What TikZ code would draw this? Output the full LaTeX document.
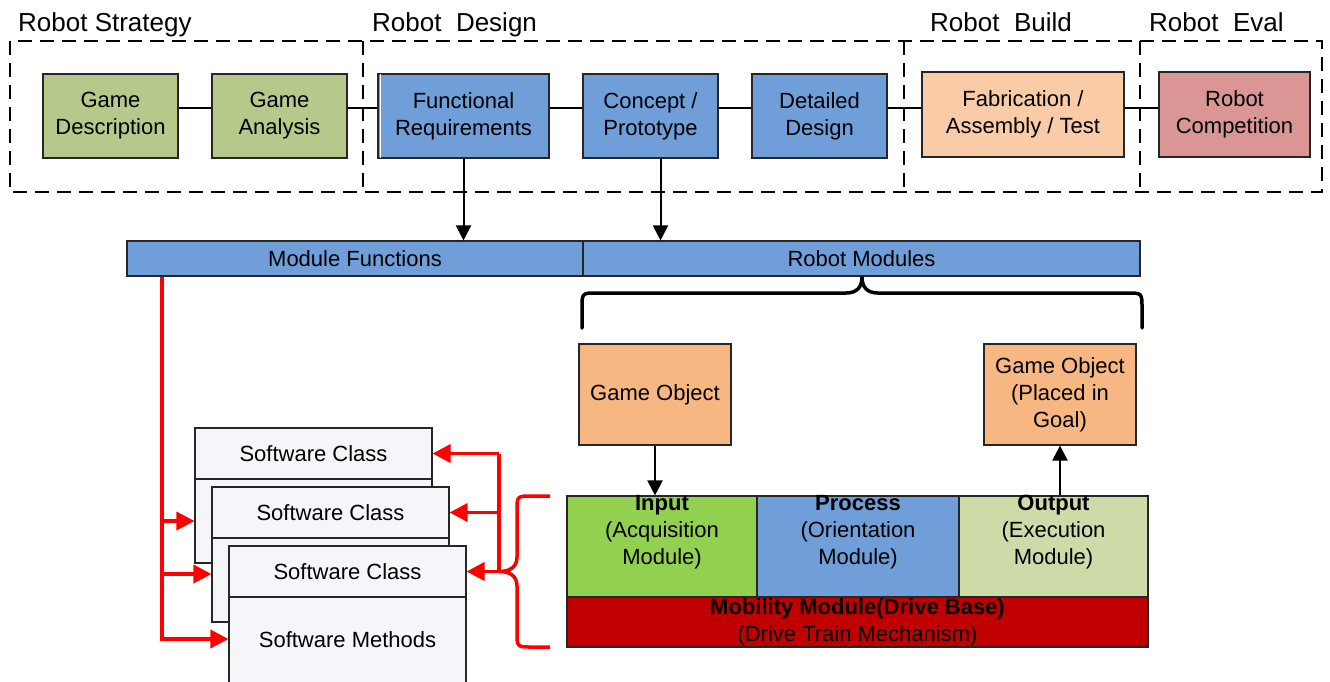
\documentclass[tikz,border=0pt]{standalone}
\usepackage{fontspec}
\setmainfont{Liberation Sans}
\usetikzlibrary{arrows.meta,calc}

\definecolor{stratgreen}{RGB}{181,201,139}
\definecolor{designblue}{RGB}{112,158,217}
\definecolor{fabpeach}{RGB}{250,203,167}
\definecolor{comprose}{RGB}{217,150,148}
\definecolor{objorange}{RGB}{247,183,130}
\definecolor{inputgreen}{RGB}{146,208,80}
\definecolor{outputgreen}{RGB}{205,219,168}
\definecolor{mobred}{RGB}{192,0,0}
\definecolor{cardfill}{RGB}{244,246,250}
\definecolor{flowred}{RGB}{255,0,0}

\newcommand\diagbody{\fontsize{22}{27}\selectfont}
\newcommand\diagtitle{\fontsize{26}{30}\selectfont}

\begin{document}
\begin{tikzpicture}[x=1pt,y=-1pt,
  box/.style={draw=black!85, line width=1.1pt, inner sep=0pt, align=center, font=\diagbody},
  txt/.style={inner sep=0pt, align=center, font=\diagbody},
  title/.style={inner sep=0pt, anchor=base west, font=\diagtitle},
  grp/.style={draw=black, line width=2pt, dash pattern=on 14pt off 8pt},
  link/.style={draw=black, line width=1.1pt},
  arr/.style={draw=black, line width=2pt, -{Triangle[length=15pt,width=15pt]}},
  redln/.style={draw=flowred, line width=3.5pt},
  redarr/.style={redln, -{Triangle[length=18pt,width=18pt]}},
  brace/.style={draw=black, line width=3.5pt, line cap=round},
  card/.style={box, fill=cardfill, minimum width=237}]

\useasboundingbox (0,0) rectangle (1330,681);
\clip (0,0) rectangle (1330,681);

% ---- phase groups ----
\draw[grp] (10,41) rectangle (1322,192);
\draw[grp] (363,41) -- (363,192);
\draw[grp] (904,41) -- (904,192);
\draw[grp] (1140,41) -- (1140,192);

\node[title] (tStrat) at (18,31) {Robot Strategy};
\node[title] (tDesign) at (372,31) {Robot~~Design};
\node[title] (tBuild) at (930,31) {Robot~~Build};
\node[title] (tEval) at (1149,31) {Robot~~Eval};

% ---- process chain ----
\node[box, fill=stratgreen, minimum width=135, minimum height=84] (gd) at (110.5,116) {Game\\Description};
\node[box, fill=stratgreen, minimum width=135, minimum height=84] (ga) at (279.5,116) {Game\\Analysis};
\node[box, fill=designblue, minimum width=171, minimum height=84] (fr) at (463.5,116) {Functional\\Requirements};
\node[box, fill=designblue, minimum width=135, minimum height=84] (cp) at (650.5,116) {Concept /\\Prototype};
\node[box, fill=designblue, minimum width=135, minimum height=84] (dd) at (819.5,116) {Detailed\\Design};
\node[box, fill=fabpeach, minimum width=202, minimum height=85] (fab) at (1023,114.5) {Fabrication /\\Assembly / Test};
\node[box, fill=comprose, minimum width=151, minimum height=85] (comp) at (1234.5,114.5) {Robot\\Competition};
\draw[white, line width=1pt] ([xshift=3pt,yshift=-1pt]fr.north west) -- ([xshift=3pt,yshift=1pt]fr.south west);

\coordinate (chainY) at (0,108);
\draw[link] (gd.east |- chainY) -- (ga.west |- chainY);
\draw[link] (ga.east |- chainY) -- (fr.west |- chainY);
\draw[link] (fr.east |- chainY) -- (cp.west |- chainY);
\draw[link] (cp.east |- chainY) -- (dd.west |- chainY);
\draw[link] (dd.east |- chainY) -- (fab.west |- chainY);
\draw[link] (fab.east |- chainY) -- (comp.west |- chainY);

% ---- module bar ----
\node[box, fill=designblue, minimum width=456, minimum height=35] (mf) at (355,258.5) {Module Functions};
\node[box, fill=designblue, minimum width=557, minimum height=35] (rm) at (861.5,258.5) {Robot Modules};

\draw[arr] (fr.south) -- (fr.south |- mf.north);
\draw[arr] ([xshift=10pt]cp.south) -- ([xshift=10pt]cp.south |- rm.north);

% ---- brace under robot modules ----
\draw[brace] (582,328) -- (582,308) .. controls (582,293) .. (597,293) -- (846,293)
  .. controls (857,293) and (862,287) .. (862,277)
  .. controls (862,287) and (867,293) .. (878,293) -- (1127,293)
  .. controls (1142,293) .. (1142,308) -- (1142,328);

% ---- game objects ----
\node[box, fill=objorange, minimum width=152, minimum height=101] (gol) at (655,394.5) {Game Object};
\node[box, fill=objorange, minimum width=152, minimum height=101] (gor) at (1060,394.5) {Game Object\\(Placed in\\Goal)};

% ---- robot module block ----
\node[box, fill=inputgreen, minimum width=190, minimum height=101] (inp) at (662,546.5) {};
\node[box, fill=designblue, minimum width=202, minimum height=101] (proc) at (858,546.5) {};
\node[box, fill=outputgreen, minimum width=189, minimum height=101] (outp) at (1053.5,546.5) {};
\node[box, fill=mobred, minimum width=581, minimum height=50] (mob) at (857.5,622) {\textbf{Mobility Module(Drive Base)}\\(Drive Train Mechanism)};
\node[txt] (inpT) at ([yshift=14pt]inp.center) {\textbf{Input}\\(Acquisition\\Module)};
\node[txt] (procT) at ([yshift=14pt]proc.center) {\textbf{Process}\\(Orientation\\Module)};
\node[txt] (outpT) at ([yshift=14pt]outp.center) {\textbf{Output}\\(Execution\\Module)};

\draw[arr] (gol.south) -- (gol.south |- inp.north);
\draw[arr] (gor.south |- outp.north) -- (gor.south);

% ---- software class cards ----
\node[card, minimum height=84] (c1b) at (313.5,521) {};
\node[card, minimum height=51] (c1h) at (313.5,453.5) {Software Class};
\node[card, minimum height=84] (c2b) at (330.5,580) {};
\node[card, minimum height=51] (c2h) at (330.5,512.5) {Software Class};
\node[card, minimum height=86] (c3b) at (347.5,640) {Software Methods};
\node[card, minimum height=51] (c3h) at (347.5,571.5) {Software Class};

% ---- red mapping arrows ----
\draw[redarr] (mf.south -| 162,0) |- ([yshift=1pt]c3b.west);
\draw[redarr] (c1b.west -| 162,0) -- (c1b.west);
\draw[redarr] ([yshift=6pt]c2b.west -| 162,0) -- ([yshift=6pt]c2b.west);

\draw[redln] (c1h.east -| 499,0) -- (c3h.east -| 499,0);
\draw[redarr] (c1h.east -| 499,0) -- (c1h.east);
\draw[redarr] (c2h.east -| 499,0) -- (c2h.east);
\draw[redarr] (c3h.east -| 499,0) -- (c3h.east);

\draw[redln] (550,496) -- (532,496) .. controls (517,496) .. (517,511) -- (517,557)
  .. controls (517,567) and (510,571.5) .. (499,571.5)
  .. controls (510,571.5) and (517,576) .. (517,586) -- (517,632)
  .. controls (517,647) .. (532,647) -- (550,647);

\end{tikzpicture}
\end{document}
